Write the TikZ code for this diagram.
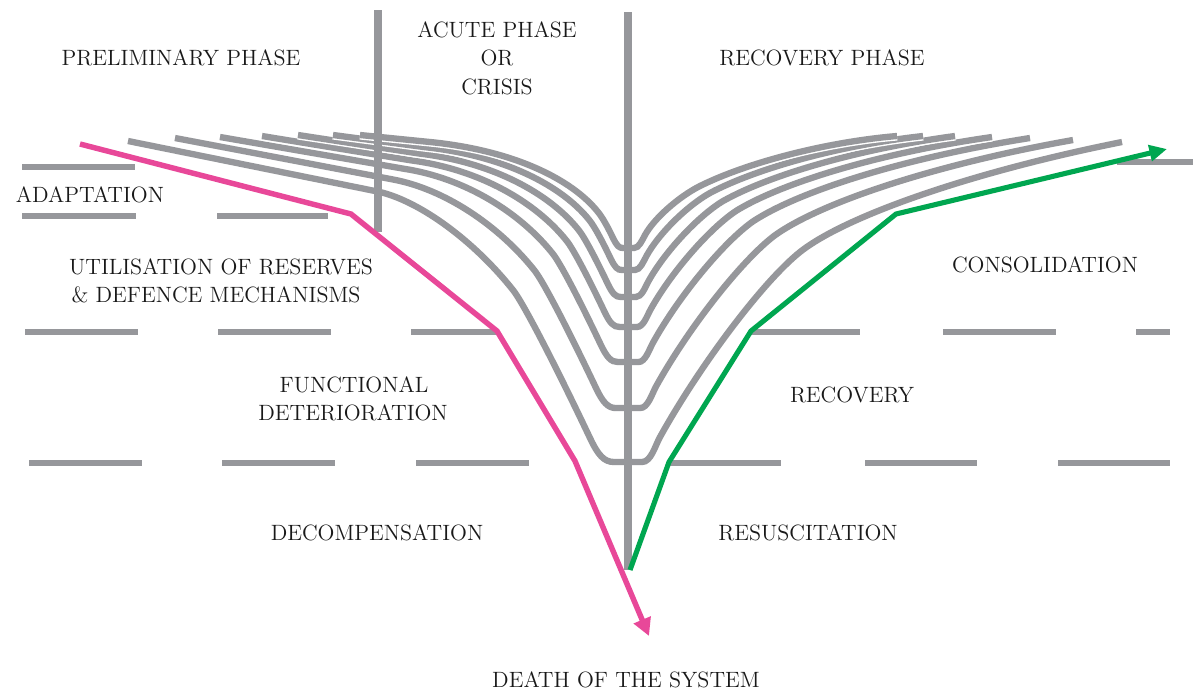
\documentclass[tikz,border=0pt]{standalone}
\usepackage{fontspec}
\usetikzlibrary{calc,arrows.meta}
\definecolor{cgray}{RGB}{150,151,155}
\definecolor{cpink}{RGB}{232,72,153}
\definecolor{cgreen}{RGB}{0,166,80}
\definecolor{ctext}{RGB}{25,25,25}
\tikzset{
  curve/.style={draw=cgray, line width=3.6pt, preaction={draw=white, line width=5.2pt}},
  vline/.style={draw=cgray, line width=4.6pt},
  dashseg/.style={draw=cgray, line width=3.3pt},
  pinkline/.style={draw=cpink, line width=3.1pt, -{Triangle[length=10pt,width=10pt]}},
  greenline/.style={draw=cgreen, line width=2.9pt, -{Triangle[length=10pt,width=9pt]}},
  lbl/.style={font=\fontsize{12.6}{15}\selectfont, text=ctext, inner sep=0pt},
}
\begin{document}
\begin{tikzpicture}[x=0.02cm,y=-0.02cm]
\useasboundingbox (0,0) rectangle (1193,691);
\fill[white] (0,0) rectangle (1193,691);

% dashed level lines
\draw[dashseg] (22,167) -- (135,167);
\draw[dashseg] (1117,162) -- (1193,162);
\draw[dashseg] (22,216) -- (136,216);
\draw[dashseg] (217,216) -- (328,216);
\draw[dashseg] (25,332) -- (138,332);
\draw[dashseg] (218,332) -- (331,332);
\draw[dashseg] (411,332) -- (497,332);
\draw[dashseg] (751,332) -- (860,332);
\draw[dashseg] (943,332) -- (1056,332);
\draw[dashseg] (1136,332) -- (1170,332);
\draw[dashseg] (29,463) -- (142,463);
\draw[dashseg] (222,463) -- (335,463);
\draw[dashseg] (416,463) -- (529,463);
\draw[dashseg] (670,463) -- (781,463);
\draw[dashseg] (865,463) -- (977,463);
\draw[dashseg] (1058,463) -- (1170,463);

% outermost (O) and innermost (I) curve: left half
\coordinate (OL1) at (380,192);   \coordinate (IL1) at (430,142);
\coordinate (OL2) at (421,202);   \coordinate (IL2) at (515,150.5);
\coordinate (OL3) at (474,241);   \coordinate (IL3) at (572.5,180);
\coordinate (OL4) at (513,290);   \coordinate (IL4) at (598,212);
\coordinate (OL5) at (522.6,302); \coordinate (IL5) at (603,218);
\coordinate (OL6) at (553.4,361); \coordinate (IL6) at (609,229.6);
\coordinate (OL7) at (590,438);   \coordinate (IL7) at (613,238);
\coordinate (OL8) at (598,455);   \coordinate (IL8) at (617,246);
\coordinate (OL9) at (604,462);   \coordinate (IL9) at (619,248);
\coordinate (OL10) at (614,462);  \coordinate (IL10) at (623,248);
% right half
\coordinate (OR0) at (642,462);   \coordinate (IR0) at (634,248);
\coordinate (OR1) at (651,462);   \coordinate (IR1) at (639,248);
\coordinate (OR2) at (655,446);   \coordinate (IR2) at (642,240.4);
\coordinate (OR3) at (660,437);   \coordinate (IR3) at (645,235);
\coordinate (OR4) at (700,365);   \coordinate (IR4) at (654,218.5);
\coordinate (OR5) at (763,281.5); \coordinate (IR5) at (679,196.5);
\coordinate (OR6) at (800,252);   \coordinate (IR6) at (700,186);
\coordinate (OR7) at (846,215.5); \coordinate (IR7) at (747,162.6);
\coordinate (OR8) at (974,171.5); \coordinate (IR8) at (826,142);

\foreach \ft/\xl/\yl/\xr/\yr in {0/128/141/1122/142, 0.252/175/138/1073/140, 0.467/220/137/1030/138, 0.631/262/136/992/137, 0.771/298/135/955/136, 0.897/333/135/923/136, 1/360/135/897/136}{
  \foreach \j in {1,...,10}{\coordinate (a\j) at ($(OL\j)!\ft!(IL\j)$);}
  \foreach \j in {0,...,8}{\coordinate (c\j) at ($(OR\j)!\ft!(IR\j)$);}
  \draw[curve] (\xl,\yl) -- (a1) .. controls (a2) and (a3) .. (a4)
     .. controls (a5) and (a6) .. (a7) .. controls (a8) and (a9) .. (a10)
     -- (c0) .. controls (c1) and (c2) .. (c3) .. controls (c4) and (c5) .. (c6)
     .. controls (c7) and (c8) .. (\xr,\yr);
}

% phase separators
\coordinate (v1t) at (378,10); \coordinate (v1b) at (378,232);
\coordinate (v2t) at (628,12); \coordinate (v2b) at (628,570);
\draw[vline] (v1t) -- (v1b);
\draw[vline] (v2t) -- (v2b);

% pink path
\coordinate (p0) at (80,144); \coordinate (p1) at (351,214); \coordinate (p2) at (497,331);
\coordinate (p3) at (575,461); \coordinate (p4) at (649,636);
\draw[pinkline] (p0) -- (p1) -- (p2) -- (p3) -- (p4);

% green path
\coordinate (g0) at (630,570); \coordinate (g1) at (669,462); \coordinate (g2) at (751,331);
\coordinate (g3) at (896,214); \coordinate (g4) at (1167,149);
\draw[greenline] (g0) -- (g1) -- (g2) -- (g3) -- (g4);

% labels
\node[lbl] (prelim) at (181,58) {PRELIMINARY PHASE};
\node[lbl] (acute1) at (497,30) {ACUTE PHASE};
\node[lbl] (acute2) at (497,58) {OR};
\node[lbl] (acute3) at (497,87) {CRISIS};
\node[lbl] (recph) at (822,58) {RECOVERY PHASE};
\node[lbl] (adapt) at (90,195) {ADAPTATION};
\node[lbl] (util1) at (221,267) {UTILISATION OF RESERVES};
\node[lbl] (util2) at (216,295) {\& DEFENCE MECHANISMS};
\node[lbl] (func1) at (354,385) {FUNCTIONAL};
\node[lbl] (func2) at (353,413) {DETERIORATION};
\node[lbl] (decomp) at (377,533) {DECOMPENSATION};
\node[lbl] (consol) at (1045,265) {CONSOLIDATION};
\node[lbl] (recov) at (852,395) {RECOVERY};
\node[lbl] (resusc) at (808,533) {RESUSCITATION};
\node[lbl] (death) at (626,680) {DEATH OF THE SYSTEM};
\end{tikzpicture}
\end{document}
